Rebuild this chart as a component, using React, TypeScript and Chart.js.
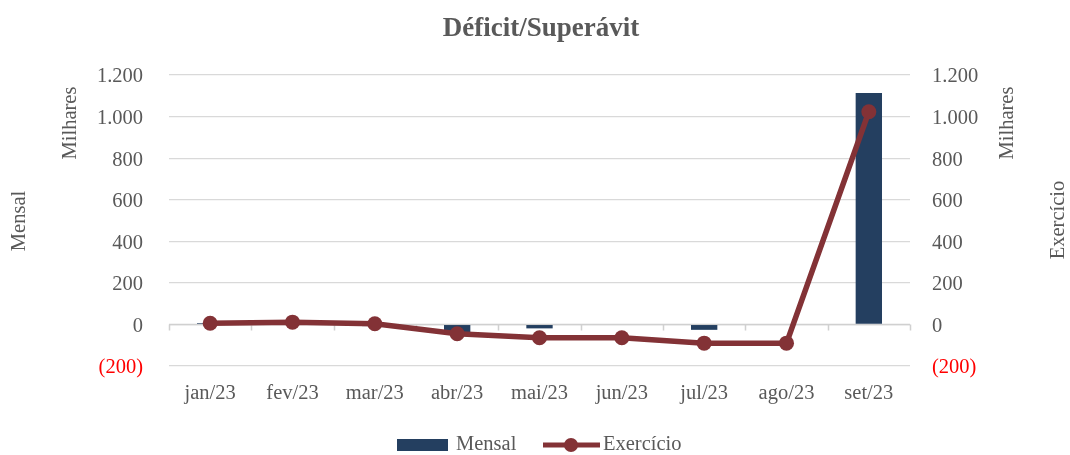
import React, { useEffect, useRef } from "react";
import { Chart, registerables } from "chart.js";

Chart.register(...registerables);

const categories = ["jan/23", "fev/23", "mar/23", "abr/23", "mai/23", "jun/23", "jul/23", "ago/23", "set/23"];
const mensal = [6, 5, -8, -48, -19, 0, -26, 0, 1113];
const exercicio = [6, 11, 3, -45, -64, -64, -90, -90, 1023];
const yMin = -200;
const yMax = 1200;
const yStep = 200;

const FONT = "'Liberation Serif', 'Times New Roman', serif";
const GRAY = "#595959";
const BAR = "#243F60";
const LINE = "#833236";
const FS = 20.5;

function fmt(v: number): string {
  const a = Math.abs(v);
  const s = a.toFixed(0).replace(/\B(?=(\d{3})+(?!\d))/g, ".");
  return v < 0 ? `(${s})` : s;
}

const decorPlugin = {
  id: "decor",
  beforeDatasetsDraw(chart: any) {
    const { ctx, chartArea, scales } = chart;
    const y0 = scales.y.getPixelForValue(0);
    const n = categories.length;
    const w = (chartArea.right - chartArea.left) / n;
    ctx.save();
    ctx.strokeStyle = "#d0d0d0";
    ctx.lineWidth = 1.5;
    ctx.beginPath();
    ctx.moveTo(chartArea.left, y0);
    ctx.lineTo(chartArea.right, y0);
    for (let i = 0; i <= n; i++) {
      const x = Math.round(chartArea.left + i * w) + 0.5;
      ctx.moveTo(x, y0);
      ctx.lineTo(x, y0 + 6);
    }
    ctx.stroke();
    ctx.restore();
  },
  afterDraw(chart: any) {
    const { ctx } = chart;
    ctx.save();
    ctx.fillStyle = GRAY;
    ctx.textAlign = "center";
    ctx.textBaseline = "middle";
    ctx.font = `bold 27px ${FONT}`;
    ctx.fillText("Déficit/Superávit", 541, 29);

    ctx.font = `${FS}px ${FONT}`;
    const rot = (text: string, x: number, y: number) => {
      ctx.save();
      ctx.translate(x, y);
      ctx.rotate(-Math.PI / 2);
      ctx.fillText(text, 0, 0);
      ctx.restore();
    };
    rot("Mensal", 20, 221);
    rot("Milhares", 71, 123);
    rot("Milhares", 1008, 123);
    rot("Exercício", 1059, 220);

    // legend
    const ly = 445;
    ctx.fillStyle = BAR;
    ctx.fillRect(397, 439, 51, 12);
    ctx.fillStyle = GRAY;
    ctx.textAlign = "left";
    ctx.fillText("Mensal", 456, ly);
    ctx.strokeStyle = LINE;
    ctx.lineWidth = 5;
    ctx.beginPath();
    ctx.moveTo(543, ly);
    ctx.lineTo(600, ly);
    ctx.stroke();
    ctx.fillStyle = LINE;
    ctx.beginPath();
    ctx.arc(571, ly, 7, 0, Math.PI * 2);
    ctx.fill();
    ctx.fillStyle = GRAY;
    ctx.fillText("Exercício", 603, ly);
    ctx.restore();
  },
};

export default function App() {
  const ref = useRef<HTMLCanvasElement | null>(null);
  useEffect(() => {
    if (!ref.current) return;
    const tickColor = (c: any) => (c.tick && c.tick.value < 0 ? "#ff0000" : GRAY);
    const chart = new Chart(ref.current, {
      type: "bar",
      data: {
        labels: categories,
        datasets: [
          {
            type: "line",
            label: "Exercício",
            data: exercicio,
            yAxisID: "y1",
            borderColor: LINE,
            backgroundColor: LINE,
            borderWidth: 5.5,
            pointRadius: 7.5,
            pointBackgroundColor: LINE,
            pointBorderWidth: 0,
            tension: 0,
            order: 0,
          } as any,
          {
            type: "bar",
            label: "Mensal",
            data: mensal,
            yAxisID: "y",
            backgroundColor: BAR,
            categoryPercentage: 1,
            barPercentage: 0.32,
            order: 1,
          },
        ],
      },
      plugins: [decorPlugin],
      options: {
        animation: false,
        responsive: true,
        maintainAspectRatio: false,
        layout: { padding: { top: 75, left: 0, right: 0, bottom: 0 } },
        plugins: {
          legend: { display: false },
          title: { display: false },
          tooltip: { enabled: false },
        },
        scales: {
          x: {
            type: "category",
            offset: true,
            grid: { display: false, drawTicks: false },
            border: { display: false },
            ticks: { color: GRAY, font: { family: FONT, size: FS }, padding: 15, maxRotation: 0 },
            afterFit: (s: any) => {
              s.height = 89;
            },
          },
          y: {
            position: "left",
            min: yMin,
            max: yMax,
            ticks: {
              stepSize: yStep,
              color: tickColor,
              font: { family: FONT, size: FS },
              padding: 26,
              labelOffset: 2,
              callback: (v: any) => fmt(Number(v)),
            },
            grid: { color: "#d9d9d9", drawTicks: false, lineWidth: 1.2 },
            border: { display: false },
            afterFit: (s: any) => {
              s.width = 169;
            },
          },
          y1: {
            position: "right",
            min: yMin,
            max: yMax,
            ticks: {
              stepSize: yStep,
              color: tickColor,
              font: { family: FONT, size: FS },
              padding: 22,
              labelOffset: 2,
              callback: (v: any) => fmt(Number(v)),
            },
            grid: { display: false, drawTicks: false },
            border: { display: false },
            afterFit: (s: any) => {
              s.width = 160;
            },
          },
        },
      },
    });
    return () => chart.destroy();
  }, []);
  return (
    <div style={{ position: "fixed", left: 0, top: 0, width: 1070, height: 455, background: "#fff" }}>
      <canvas ref={ref} />
    </div>
  );
}
